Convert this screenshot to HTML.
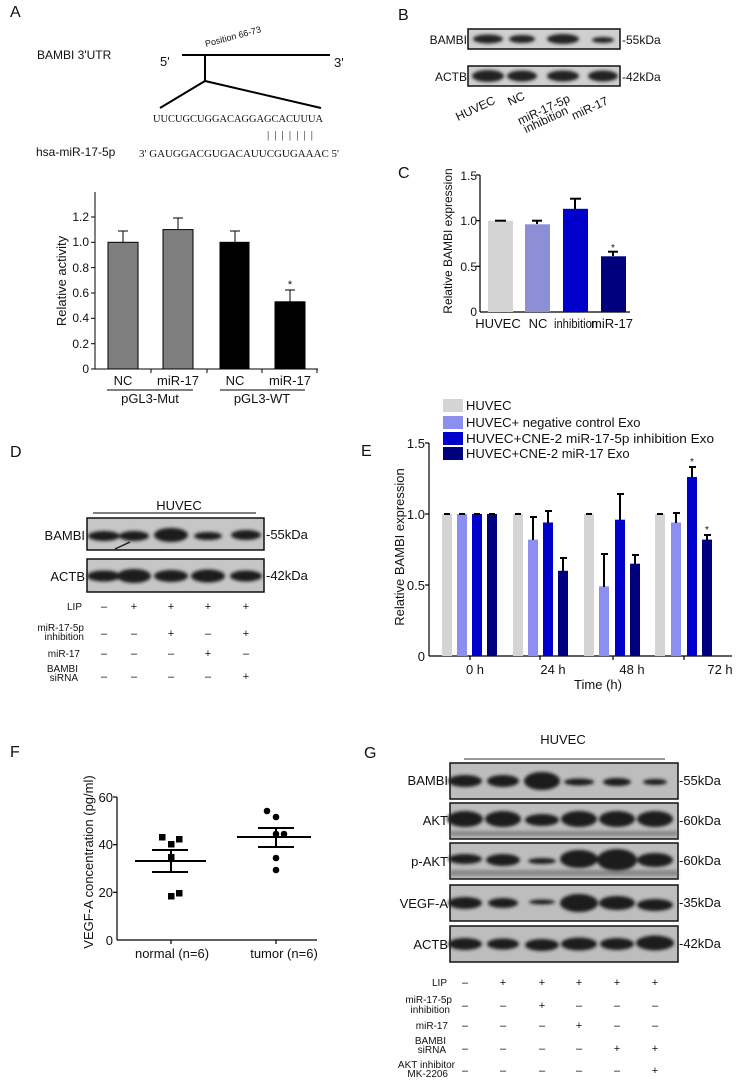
<!DOCTYPE html>
<html><head><meta charset="utf-8"><style>
html,body{margin:0;padding:0;background:#fff}
svg{display:block}
text{font-family:"Liberation Sans",Arial,sans-serif;fill:#111}
.s{font-family:"Liberation Serif",serif}
</style></head><body>
<svg width="741" height="1084" viewBox="0 0 741 1084" xmlns="http://www.w3.org/2000/svg">
<defs>
<filter id="bl" x="-30%" y="-60%" width="160%" height="220%"><feGaussianBlur stdDeviation="1.6"/></filter>
</defs>

<!-- Panel A -->
<text x="10" y="17" font-size="16">A</text>
<text x="37" y="59" font-size="12">BAMBI 3'UTR</text>
<text x="160" y="66" font-size="13">5'</text>
<text x="334" y="67" font-size="13">3'</text>
<line x1="182" y1="55" x2="330" y2="55" stroke="#000" stroke-width="2"/>
<line x1="205" y1="55" x2="205" y2="81" stroke="#000" stroke-width="2"/>
<polyline points="160,108 205,81 321,108" fill="none" stroke="#000" stroke-width="2"/>
<text x="206" y="47" font-size="9" transform="rotate(-15 206 47)">Position 66-73</text>
<text x="153" y="122" font-size="10" class="s" textLength="170" lengthAdjust="spacingAndGlyphs">UUCUGCUGGACAGGAGCACUUUA</text>
<text x="267" y="138" font-size="11" class="s" textLength="46" lengthAdjust="spacing">|||||||</text>
<text x="36" y="156" font-size="12">hsa-miR-17-5p</text>
<text x="139" y="157" font-size="10" class="s" textLength="200" lengthAdjust="spacingAndGlyphs">3' GAUGGACGUGACAUUCGUGAAAC  5'</text>

<g stroke="#000" stroke-width="1">
<line x1="95" y1="192" x2="95" y2="369"/>
<line x1="95" y1="369" x2="318" y2="369"/>
<line x1="91" y1="217" x2="95" y2="217"/><line x1="91" y1="242.3" x2="95" y2="242.3"/>
<line x1="91" y1="267.6" x2="95" y2="267.6"/><line x1="91" y1="293" x2="95" y2="293"/>
<line x1="91" y1="318.3" x2="95" y2="318.3"/><line x1="91" y1="343.7" x2="95" y2="343.7"/>
<line x1="91" y1="369" x2="95" y2="369"/>
<line x1="151" y1="369" x2="151" y2="373"/><line x1="207" y1="369" x2="207" y2="373"/>
<line x1="262" y1="369" x2="262" y2="373"/><line x1="317" y1="369" x2="317" y2="373"/>
</g>
<g font-size="12" text-anchor="end">
<text x="89" y="221">1.2</text><text x="89" y="246">1.0</text><text x="89" y="272">0.8</text>
<text x="89" y="297">0.6</text><text x="89" y="322">0.4</text><text x="89" y="348">0.2</text><text x="89" y="373">0</text>
</g>
<text transform="translate(66 281) rotate(-90)" font-size="13" text-anchor="middle">Relative activity</text>
<g stroke="#000" stroke-width="1">
<rect x="108" y="242.3" width="30" height="126.7" fill="#7f7f7f"/>
<rect x="163" y="229.6" width="30" height="139.4" fill="#7f7f7f"/>
<rect x="220" y="242.3" width="29" height="126.7" fill="#000"/>
<rect x="275" y="301.8" width="30" height="67.2" fill="#000"/>
<line x1="123" y1="242" x2="123" y2="231"/><line x1="118" y1="231" x2="128" y2="231"/>
<line x1="178" y1="229" x2="178" y2="218"/><line x1="173" y1="218" x2="183" y2="218"/>
<line x1="235" y1="242" x2="235" y2="231"/><line x1="230" y1="231" x2="240" y2="231"/>
<line x1="290" y1="302" x2="290" y2="290"/><line x1="285" y1="290" x2="295" y2="290"/>
</g>
<text x="290" y="288" font-size="11" text-anchor="middle">*</text>
<g font-size="13" text-anchor="middle">
<text x="123" y="385">NC</text><text x="178" y="385">miR-17</text>
<text x="235" y="385">NC</text><text x="290" y="385">miR-17</text>
<text x="150" y="403">pGL3-Mut</text><text x="262" y="403">pGL3-WT</text>
</g>
<line x1="107" y1="390" x2="193" y2="390" stroke="#000"/>
<line x1="220" y1="390" x2="305" y2="390" stroke="#000"/>

<!-- Panel B -->
<text x="398" y="20" font-size="16">B</text>
<rect x="468" y="29" width="152" height="20" fill="#cfcfcf" stroke="#111" stroke-width="1.5"/>
<rect x="468" y="66" width="152" height="20" fill="#cfcfcf" stroke="#111" stroke-width="1.5"/>
<g fill="#222" filter="url(#bl)">
<ellipse cx="488" cy="39" rx="15" ry="4.5"/><ellipse cx="522" cy="39" rx="13" ry="4"/>
<ellipse cx="563" cy="39" rx="16" ry="5"/><ellipse cx="603" cy="40" rx="11" ry="3"/>
<ellipse cx="488" cy="76" rx="16" ry="6"/><ellipse cx="522" cy="76" rx="15" ry="5.5"/>
<ellipse cx="563" cy="76" rx="16" ry="5.5"/><ellipse cx="603" cy="76" rx="15" ry="5.5"/>
</g>
<text x="467" y="44" font-size="12" text-anchor="end">BAMBI</text>
<text x="467" y="81" font-size="12" text-anchor="end">ACTB</text>
<text x="622" y="44" font-size="12">-55kDa</text>
<text x="622" y="81" font-size="12">-42kDa</text>
<g font-size="12">
<text transform="translate(458 121) rotate(-25)">HUVEC</text>
<text transform="translate(510 106) rotate(-25)">NC</text>
<text transform="translate(520 125) rotate(-25)"><tspan x="0" y="0">miR-17-5p</tspan><tspan x="2" y="10">inhibition</tspan></text>
<text transform="translate(574 120) rotate(-25)">miR-17</text>
</g>

<!-- Panel C -->
<text x="398" y="178" font-size="16">C</text>
<g stroke="#000" stroke-width="1.2">
<line x1="480" y1="175" x2="480" y2="312"/><line x1="480" y1="312" x2="630" y2="312"/>
<line x1="476" y1="175" x2="480" y2="175"/><line x1="476" y1="220.7" x2="480" y2="220.7"/>
<line x1="476" y1="266.3" x2="480" y2="266.3"/>
</g>
<g font-size="12" text-anchor="end">
<text x="477" y="180">1.5</text><text x="477" y="225">1.0</text><text x="477" y="271">0.5</text><text x="477" y="316">0</text>
</g>
<text transform="translate(452 241) rotate(-90)" font-size="12" text-anchor="middle">Relative BAMBI expression</text>
<rect x="488" y="220.7" width="25" height="91.3" fill="#d4d4d4"/>
<rect x="525" y="224.3" width="25" height="87.7" fill="#8c8ed6"/>
<rect x="563" y="208.8" width="25" height="103.2" fill="#0000cc"/>
<rect x="601" y="256.3" width="25" height="55.7" fill="#00007f"/>
<g stroke="#000" stroke-width="2">
<line x1="495" y1="220.7" x2="506" y2="220.7"/>
<line x1="537" y1="224" x2="537" y2="220.7"/><line x1="532" y1="220.7" x2="542" y2="220.7"/>
<line x1="575" y1="209" x2="575" y2="198.7"/><line x1="570" y1="198.7" x2="581" y2="198.7"/>
<line x1="613" y1="256" x2="613" y2="251.7"/><line x1="608" y1="251.7" x2="618" y2="251.7"/>
</g>
<text x="613" y="251" font-size="10" text-anchor="middle">*</text>
<g font-size="13" text-anchor="middle">
<text x="498" y="328">HUVEC</text><text x="538" y="328">NC</text>
<text x="576" y="328" textLength="44" lengthAdjust="spacingAndGlyphs">inhibition</text><text x="612" y="328">miR-17</text>
</g>

<!-- Panel D -->
<text x="10" y="457" font-size="16">D</text>
<text x="179" y="510" font-size="13" text-anchor="middle">HUVEC</text>
<line x1="93" y1="513" x2="256" y2="513" stroke="#000"/>
<rect x="87" y="518" width="177" height="32" fill="#c6c6c6" stroke="#111" stroke-width="1.5"/>
<rect x="87" y="559" width="177" height="33" fill="#c6c6c6" stroke="#111" stroke-width="1.5"/>
<g fill="#1a1a1a" filter="url(#bl)">
<ellipse cx="104" cy="536" rx="16" ry="5"/><ellipse cx="134" cy="536" rx="15" ry="5"/>
<ellipse cx="171" cy="535" rx="17" ry="7"/><ellipse cx="208" cy="536" rx="14" ry="4"/>
<ellipse cx="246" cy="535" rx="15" ry="5"/>
<ellipse cx="104" cy="576" rx="17" ry="5.5"/><ellipse cx="134" cy="576" rx="17" ry="7"/>
<ellipse cx="171" cy="576" rx="17" ry="6"/><ellipse cx="208" cy="576" rx="17" ry="6.5"/>
<ellipse cx="246" cy="576" rx="16" ry="5.5"/>
</g>
<line x1="115" y1="549" x2="130" y2="542" stroke="#222" stroke-width="1.5"/>
<text x="85" y="540" font-size="13" text-anchor="end">BAMBI</text>
<text x="85" y="581" font-size="13" text-anchor="end">ACTB</text>
<text x="266" y="539" font-size="13">-55kDa</text>
<text x="266" y="580" font-size="13">-42kDa</text>
<g font-size="10" text-anchor="end">
<text x="82" y="610">LIP</text>
<text x="84" y="631">miR-17-5p</text><text x="84" y="640">inhibition</text>
<text x="80" y="657">miR-17</text>
<text x="78" y="672">BAMBI</text><text x="78" y="681">siRNA</text>
</g>
<g font-size="11" text-anchor="middle" fill="#333">
<text x="104" y="610">–</text><text x="134" y="610">+</text><text x="171" y="610">+</text><text x="208" y="610">+</text><text x="246" y="610">+</text>
<text x="104" y="637">–</text><text x="134" y="637">–</text><text x="171" y="637">+</text><text x="208" y="637">–</text><text x="246" y="637">+</text>
<text x="104" y="657">–</text><text x="134" y="657">–</text><text x="171" y="657">–</text><text x="208" y="657">+</text><text x="246" y="657">–</text>
<text x="104" y="680">–</text><text x="134" y="680">–</text><text x="171" y="680">–</text><text x="208" y="680">–</text><text x="246" y="680">+</text>
</g>

<!-- Panel E -->
<text x="361" y="456" font-size="16">E</text>
<rect x="443" y="399" width="20" height="13" fill="#d4d4d4"/>
<rect x="443" y="416" width="20" height="13" fill="#8c8ef0"/>
<rect x="443" y="432" width="20" height="13" fill="#0000cd"/>
<rect x="443" y="447" width="20" height="13" fill="#00007f"/>
<g font-size="13">
<text x="466" y="410">HUVEC</text>
<text x="466" y="427">HUVEC+ negative control Exo</text>
<text x="466" y="443" textLength="248" lengthAdjust="spacingAndGlyphs">HUVEC+CNE-2 miR-17-5p inhibition Exo</text>
<text x="466" y="458">HUVEC+CNE-2 miR-17 Exo</text>
</g>
<g stroke="#000" stroke-width="1.2">
<line x1="429" y1="443" x2="429" y2="656"/><line x1="429" y1="656" x2="732" y2="656"/>
<line x1="425" y1="443" x2="429" y2="443"/><line x1="425" y1="514" x2="429" y2="514"/><line x1="425" y1="585" x2="429" y2="585"/>
<line x1="470" y1="656" x2="470" y2="660"/><line x1="540" y1="656" x2="540" y2="660"/>
<line x1="613" y1="656" x2="613" y2="660"/><line x1="684" y1="656" x2="684" y2="660"/>
</g>
<g font-size="13" text-anchor="end">
<text x="425" y="448">1.5</text><text x="425" y="519">1.0</text><text x="425" y="590">0.5</text><text x="425" y="661">0</text>
</g>
<text transform="translate(404 547) rotate(-90)" font-size="13" text-anchor="middle">Relative BAMBI expression</text>
<g font-size="13" text-anchor="middle">
<text x="475" y="674">0 h</text><text x="553" y="674">24 h</text><text x="632" y="674">48 h</text><text x="720" y="674">72 h</text>
<text x="598" y="689">Time (h)</text>
</g>
<g>
<rect x="442" y="514" width="10" height="142" fill="#d4d4d4"/>
<rect x="457" y="514" width="10" height="142" fill="#8c8ef0"/>
<rect x="472" y="514" width="10" height="142" fill="#0000cd"/>
<rect x="487" y="514" width="10" height="142" fill="#00007f"/>
<rect x="513" y="514" width="10" height="142" fill="#d4d4d4"/>
<rect x="528" y="539.6" width="10" height="116.4" fill="#8c8ef0"/>
<rect x="543" y="522.5" width="10" height="133.5" fill="#0000cd"/>
<rect x="558" y="570.8" width="10" height="85.2" fill="#00007f"/>
<rect x="584" y="514" width="10" height="142" fill="#d4d4d4"/>
<rect x="599" y="586.4" width="10" height="69.6" fill="#8c8ef0"/>
<rect x="615" y="519.7" width="10" height="136.3" fill="#0000cd"/>
<rect x="630" y="563.7" width="10" height="92.3" fill="#00007f"/>
<rect x="655" y="514" width="10" height="142" fill="#d4d4d4"/>
<rect x="671" y="522.5" width="10" height="133.5" fill="#8c8ef0"/>
<rect x="687" y="477" width="10" height="179" fill="#0000cd"/>
<rect x="702" y="539.6" width="10" height="116.4" fill="#00007f"/>
</g>
<g stroke="#000" stroke-width="2">
<line x1="444" y1="514" x2="450" y2="514"/><line x1="459" y1="514" x2="465" y2="514"/>
<line x1="474" y1="514" x2="480" y2="514"/><line x1="489" y1="514" x2="495" y2="514"/>
<line x1="515" y1="514" x2="521" y2="514"/><line x1="586" y1="514" x2="592" y2="514"/><line x1="657" y1="514" x2="663" y2="514"/>
<line x1="533" y1="540" x2="533" y2="517"/><line x1="530" y1="517" x2="537" y2="517"/>
<line x1="548" y1="523" x2="548" y2="511"/><line x1="545" y1="511" x2="552" y2="511"/>
<line x1="563" y1="571" x2="563" y2="558"/><line x1="560" y1="558" x2="567" y2="558"/>
<line x1="604" y1="587" x2="604" y2="554"/><line x1="601" y1="554" x2="608" y2="554"/>
<line x1="620" y1="520" x2="620" y2="494"/><line x1="617" y1="494" x2="624" y2="494"/>
<line x1="635" y1="564" x2="635" y2="555"/><line x1="632" y1="555" x2="639" y2="555"/>
<line x1="676" y1="523" x2="676" y2="513"/><line x1="673" y1="513" x2="680" y2="513"/>
<line x1="692" y1="477" x2="692" y2="467"/><line x1="689" y1="467" x2="696" y2="467"/>
<line x1="707" y1="540" x2="707" y2="535"/><line x1="704" y1="535" x2="711" y2="535"/>
</g>
<text x="692" y="465" font-size="10" text-anchor="middle">*</text>
<text x="707" y="533" font-size="10" text-anchor="middle">*</text>

<!-- Panel F -->
<text x="10" y="757" font-size="16">F</text>
<g stroke="#000" stroke-width="1.2">
<line x1="117" y1="797" x2="117" y2="940"/><line x1="117" y1="940" x2="317" y2="940"/>
<line x1="113" y1="797" x2="117" y2="797"/><line x1="113" y1="844.7" x2="117" y2="844.7"/>
<line x1="113" y1="892.3" x2="117" y2="892.3"/>
<line x1="171" y1="940" x2="171" y2="944"/><line x1="276" y1="940" x2="276" y2="944"/>
</g>
<g font-size="13" text-anchor="end">
<text x="113" y="802">60</text><text x="113" y="849">40</text><text x="113" y="897">20</text><text x="113" y="945">0</text>
</g>
<text transform="translate(93 862) rotate(-90)" font-size="13" text-anchor="middle">VEGF-A concentration (pg/ml)</text>
<g font-size="13" text-anchor="middle">
<text x="172" y="958">normal (n=6)</text><text x="284" y="958">tumor (n=6)</text>
</g>
<g fill="#000">
<rect x="159" y="834" width="6.5" height="6.5"/><rect x="176" y="836" width="6.5" height="6.5"/>
<rect x="168" y="841" width="6.5" height="6.5"/><rect x="168" y="854" width="6.5" height="6.5"/>
<rect x="168" y="893" width="6.5" height="6.5"/><rect x="176" y="890" width="6.5" height="6.5"/>
<circle cx="267" cy="811" r="3.3"/><circle cx="276" cy="817" r="3.3"/>
<circle cx="276" cy="834" r="3.3"/><circle cx="284" cy="834" r="3.3"/>
<circle cx="276" cy="858" r="3.3"/><circle cx="276" cy="870" r="3.3"/>
</g>
<g stroke="#000" stroke-width="2">
<line x1="135" y1="861" x2="206" y2="861"/>
<line x1="152" y1="850" x2="188" y2="850"/><line x1="152" y1="872" x2="188" y2="872"/>
<line x1="171" y1="850" x2="171" y2="872"/>
<line x1="237" y1="837" x2="311" y2="837"/>
<line x1="258" y1="828" x2="294" y2="828"/><line x1="258" y1="847" x2="294" y2="847"/>
<line x1="276" y1="828" x2="276" y2="847"/>
</g>

<!-- Panel G -->
<text x="364" y="758" font-size="16">G</text>
<text x="563" y="744" font-size="13" text-anchor="middle">HUVEC</text>
<line x1="464" y1="759" x2="665" y2="759" stroke="#333"/>
<g fill="#bdbdbd" stroke="#111" stroke-width="1.5">
<rect x="450" y="763" width="228" height="36"/>
<rect x="450" y="803" width="228" height="36"/>
<rect x="450" y="843" width="228" height="36"/>
<rect x="450" y="885" width="228" height="36"/>
<rect x="450" y="926" width="228" height="36"/>
</g>
<g fill="#1a1a1a" filter="url(#bl)">
<ellipse cx="465" cy="781" rx="17" ry="6"/><ellipse cx="503" cy="781" rx="16" ry="6"/>
<ellipse cx="542" cy="781" rx="18" ry="9"/><ellipse cx="579" cy="782" rx="15" ry="3.5"/>
<ellipse cx="617" cy="782" rx="14" ry="4"/><ellipse cx="655" cy="782" rx="12" ry="3"/>
<ellipse cx="465" cy="819" rx="18" ry="8"/><ellipse cx="503" cy="819" rx="18" ry="8"/>
<ellipse cx="542" cy="820" rx="17" ry="6"/><ellipse cx="579" cy="819" rx="18" ry="8"/>
<ellipse cx="617" cy="819" rx="18" ry="8"/><ellipse cx="655" cy="819" rx="18" ry="8"/>
<ellipse cx="465" cy="859" rx="17" ry="5"/><ellipse cx="503" cy="860" rx="17" ry="6"/>
<ellipse cx="542" cy="861" rx="14" ry="3"/><ellipse cx="579" cy="859" rx="19" ry="9"/>
<ellipse cx="617" cy="860" rx="20" ry="11"/><ellipse cx="655" cy="860" rx="18" ry="7"/>
<ellipse cx="465" cy="903" rx="17" ry="6"/><ellipse cx="503" cy="903" rx="15" ry="5"/>
<ellipse cx="542" cy="902" rx="13" ry="2.5"/><ellipse cx="579" cy="903" rx="19" ry="9"/>
<ellipse cx="617" cy="903" rx="18" ry="7"/><ellipse cx="655" cy="905" rx="18" ry="6"/>
<ellipse cx="465" cy="944" rx="17" ry="6"/><ellipse cx="503" cy="944" rx="16" ry="5.5"/>
<ellipse cx="542" cy="945" rx="17" ry="6"/><ellipse cx="579" cy="944" rx="18" ry="6.5"/>
<ellipse cx="617" cy="944" rx="17" ry="6"/><ellipse cx="655" cy="943" rx="19" ry="7.5"/>
</g>
<g fill="#555" opacity="0.5" filter="url(#bl)">
<rect x="450" y="870" width="228" height="6"/><rect x="450" y="831" width="228" height="5"/>
</g>
<g font-size="13" text-anchor="end">
<text x="448" y="785">BAMBI</text><text x="448" y="825">AKT</text><text x="448" y="866">p-AKT</text>
<text x="448" y="908">VEGF-A</text><text x="448" y="949">ACTB</text>
</g>
<g font-size="13">
<text x="679" y="785">-55kDa</text><text x="679" y="825">-60kDa</text><text x="679" y="865">-60kDa</text>
<text x="679" y="907">-35kDa</text><text x="679" y="948">-42kDa</text>
</g>
<g font-size="10" text-anchor="end">
<text x="447" y="986">LIP</text>
<text x="452" y="1003">miR-17-5p</text><text x="450" y="1013">inhibition</text>
<text x="448" y="1029">miR-17</text>
<text x="446" y="1044">BAMBI</text><text x="446" y="1053">siRNA</text>
<text x="455" y="1068">AKT inhibitor</text><text x="448" y="1077">MK-2206</text>
</g>
<g font-size="11" text-anchor="middle" fill="#333">
<text x="465" y="986">–</text><text x="503" y="986">+</text><text x="542" y="986">+</text><text x="579" y="986">+</text><text x="617" y="986">+</text><text x="655" y="986">+</text>
<text x="465" y="1009">–</text><text x="503" y="1009">–</text><text x="542" y="1009">+</text><text x="579" y="1009">–</text><text x="617" y="1009">–</text><text x="655" y="1009">–</text>
<text x="465" y="1029">–</text><text x="503" y="1029">–</text><text x="542" y="1029">–</text><text x="579" y="1029">+</text><text x="617" y="1029">–</text><text x="655" y="1029">–</text>
<text x="465" y="1052">–</text><text x="503" y="1052">–</text><text x="542" y="1052">–</text><text x="579" y="1052">–</text><text x="617" y="1052">+</text><text x="655" y="1052">+</text>
<text x="465" y="1074">–</text><text x="503" y="1074">–</text><text x="542" y="1074">–</text><text x="579" y="1074">–</text><text x="617" y="1074">–</text><text x="655" y="1074">+</text>
</g>
</svg>
</body></html>
